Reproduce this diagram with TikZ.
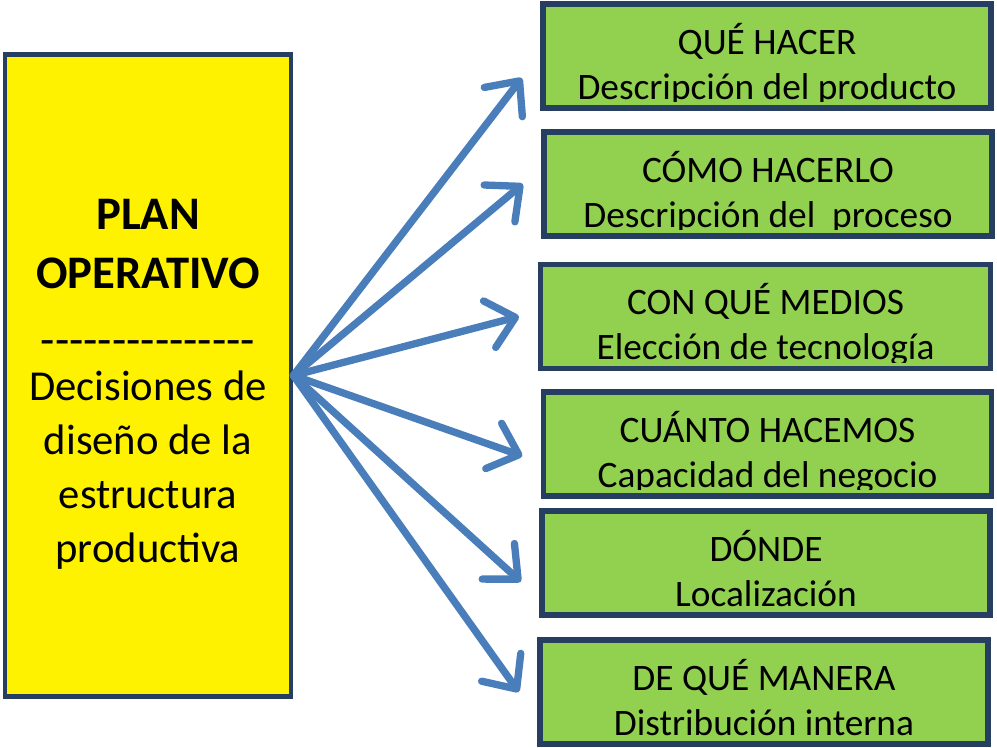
\documentclass[tikz,border=0pt]{standalone}
\usepackage{fontspec}
\setmainfont{Carlito}[Ligatures=TeXOff]
\usetikzlibrary{arrows.meta, positioning}
\definecolor{navy}{RGB}{38,62,96}
\definecolor{leaf}{RGB}{146,208,80}
\definecolor{steel}{RGB}{74,126,187}
\tikzstyle{planbox} = [draw=navy, line width=3.6pt, fill=yellow, minimum width=214.5pt, minimum height=481pt, align=center, inner sep=0pt, font=\fontsize{32}{40.5}\selectfont]
\tikzstyle{task} = [draw=navy, line width=3.8pt, fill=leaf, minimum width=336pt, minimum height=78pt, inner sep=0pt]
\tikzstyle{arrow} = [line width=5.5pt, steel, line cap=round, -{Straight Barb[length=20pt, width=36pt, round]}]

\begin{document}
\begin{tikzpicture}[
    x=0.75pt, y=-0.75pt,
    tasktext/.style 2 args={path picture={
        \clip ([yshift=4.6pt]path picture bounding box.south west) rectangle (path picture bounding box.north east);
        \node[align=center, font=\fontsize{28}{33.75}\selectfont, yshift=-7.75pt] at (path picture bounding box.center) {\rule{0pt}{24pt}#1\\#2\rule[-8pt]{0pt}{8pt}};}}
]
\useasboundingbox (0,0) rectangle (997,748);

% Nodes
\node (plan) [planbox] at (148,375.5) {{\bfseries\fontsize{35}{40.5}\selectfont\rule{0pt}{36pt}PLAN}\\[3.5pt]{\bfseries\fontsize{35}{40.5}\selectfont OPERATIVO}\\[9.5pt]{\fontsize{35}{40.5}\selectfont ---------------}\\[-6.5pt]Decisiones de\\diseño de la\\estructura\\productiva};

\node (what) [task, tasktext={QUÉ HACER}{Descripción del producto}] at (767,56) {};
\node (how) [task, tasktext={CÓMO HACERLO}{Descripción del\ \ proceso}] at (768,184) {};
\node (means) [task, minimum width=338pt, tasktext={CON QUÉ MEDIOS}{Elección de tecnología}] at (765.5,316.5) {};
\node (howmuch) [task, tasktext={CUÁNTO HACEMOS}{Capacidad del negocio}] at (767.5,444) {};
\node (where) [task, tasktext={DÓNDE}{Localización}] at (766,563) {};
\node (manner) [task, tasktext={DE QUÉ MANERA}{Distribución interna}] at (764,692) {};

% Arrows
\draw [arrow] (plan.east) -- ([xshift=-14pt,yshift=-16.5pt]what.west);
\draw [arrow] (plan.east) -- ([xshift=-14pt]how.west);
\draw [arrow] (plan.east) -- ([xshift=-14pt]means.west);
\draw [arrow] (plan.east) -- ([xshift=-14pt,yshift=-9pt]howmuch.west);
\draw [arrow] (plan.east) -- ([xshift=-14pt,yshift=-14pt]where.west);
\draw [arrow] (plan.east) -- ([xshift=-14pt]manner.west);

\end{tikzpicture}
\end{document}
